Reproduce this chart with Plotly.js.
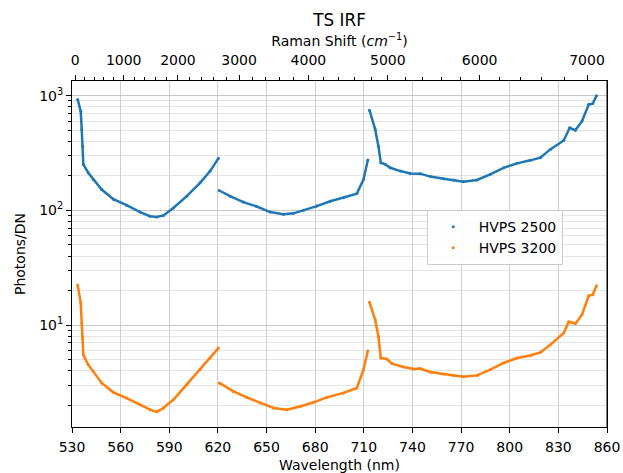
<!DOCTYPE html>
<html>
<head>
<meta charset="utf-8">
<script src="https://cdn.plot.ly/plotly-3.0.1.min.js"></script>
<style>html,body{margin:0;padding:0;background:#fff;}#chart{width:623px;height:473px;}</style>
</head>
<body>
<div id="chart"></div>
<script>
// ---- data ----
const wl1 = [533.5, 535.4, 536.0, 536.6, 537.0, 540.0, 543.2, 548.3, 555.5, 563.7, 572.0, 578.1, 582.3, 586.4, 592.5, 600.8, 609.0, 615.2, 620.3];
const wl2 = [620.8, 627.5, 635.7, 644.0, 652.2, 660.4, 666.6, 672.8, 681.0, 689.3, 697.5, 705.7, 709.8, 712.5];
const wl3 = [713.5, 717.0, 719.0, 720.5, 723.2, 726.3, 732.5, 738.6, 744.8, 751.0, 759.2, 765.4, 771.5, 779.8, 788.0, 796.2, 804.5, 812.7, 818.9, 825.0, 833.3, 837.0, 840.5, 844.6, 848.7, 851.2, 853.5];

const hv2500_1 = [927, 733, 508, 363, 252, 213, 186, 152, 125, 111, 96.6, 89, 87.5, 90.4, 105, 133, 174, 220, 284];
const hv2500_2 = [149, 133, 118, 108, 96.7, 92.3, 94.2, 100, 109, 120, 129, 140, 186, 275];
const hv2500_3 = [748, 508, 363, 260, 252, 235, 220, 210, 209, 197, 189, 184, 178, 184, 206, 235, 257, 273, 288, 340, 407, 525, 500, 600, 837, 853, 1000];

const hv3200_1 = [22.4, 15.6, 10.4, 7.94, 5.5, 4.51, 3.95, 3.13, 2.59, 2.31, 2.02, 1.83, 1.75, 1.89, 2.23, 3.02, 4.08, 5.16, 6.3];
const hv3200_2 = [3.13, 2.64, 2.34, 2.09, 1.89, 1.83, 1.95, 2.12, 2.34, 2.56, 2.83, 4.08, 5.97];
const wl2o = [620.8, 629.6, 637.8, 646.0, 654.3, 662.5, 670.7, 679.0, 687.2, 697.5, 705.7, 709.8, 712.5];
const hv3200_3 = [15.8, 11.1, 7.94, 5.16, 5.06, 4.61, 4.31, 4.14, 4.17, 3.90, 3.74, 3.64, 3.55, 3.64, 4.08, 4.67, 5.16, 5.43, 5.77, 6.73, 8.51, 10.7, 10.3, 12.3, 18.0, 18.4, 22.0];
const wl3o = [713.5, 717.0, 719.0, 720.5, 724.2, 727.3, 734.5, 740.7, 744.8, 751.0, 759.2, 765.4, 771.5, 779.8, 788.0, 796.2, 804.5, 812.7, 818.9, 825.0, 833.3, 836.4, 840.5, 844.6, 848.7, 851.2, 853.5];

const seriesNames = ["HVPS 2500", "HVPS 3200"];
const xTicks = [530, 560, 590, 620, 650, 680, 710, 740, 770, 800, 830, 860];
const ramanMajor = [0, 1000, 2000, 3000, 4000, 5000, 6000, 7000];
const ramanMinorStep = 200;
const laserNm = 532;
const yMajor = [10, 100, 1000];

// ---- helpers ----
function joinSegs(segs) { const out = []; segs.forEach((s, i) => { if (i) out.push(null); out.push(...s); }); return out; }
const ramanToNm = r => 1e7 / (1e7 / laserNm - r);
const ramanMinor = [];
for (let r = 0; r <= 7200; r += ramanMinorStep) if (r % 1000 !== 0) ramanMinor.push(r);
const yMinor = [];
[1, 10, 100].forEach(d => { for (let k = 2; k <= 9; k++) yMinor.push(k * d); });

const blue = '#1f77b4', orange = '#ff7f0e';
const xb = joinSegs([wl1, wl2, wl3]), yb = joinSegs([hv2500_1, hv2500_2, hv2500_3]);
const xo = joinSegs([wl1, wl2o, wl3o]), yo = joinSegs([hv3200_1, hv3200_2, hv3200_3]);

const traces = [
  {x: xb, y: yb, mode: 'lines', line: {color: blue, width: 2.5}, showlegend: false, hoverinfo: 'skip', connectgaps: false},
  {x: xo, y: yo, mode: 'lines', line: {color: orange, width: 2.5}, showlegend: false, hoverinfo: 'skip', connectgaps: false},
  {x: xb, y: yb, mode: 'markers', marker: {color: blue, size: 3}, name: seriesNames[0]},
  {x: xo, y: yo, mode: 'markers', marker: {color: orange, size: 3}, name: seriesNames[1]},
  {x: [null], y: [null], xaxis: 'x2', mode: 'markers', showlegend: false, hoverinfo: 'skip'}
];

const font = {family: 'DejaVu Sans, sans-serif', size: 14, color: '#000'};
const layout = {
  width: 623, height: 473,
  margin: {l: 72, r: 16, t: 81, b: 46},
  paper_bgcolor: '#fff', plot_bgcolor: '#fff',
  font: font,
  title: {text: 'TS IRF', font: {family: 'DejaVu Sans, sans-serif', size: 16.8, color: '#000'}, x: 0.545, xref: 'container', y: 0.958, yref: 'container', xanchor: 'center', yanchor: 'middle'},
  xaxis: {
    range: [530, 860], tickmode: 'array', tickvals: xTicks, ticktext: xTicks.map(String),
    ticks: 'outside', ticklen: 5, tickwidth: 1, tickcolor: '#000', ticklabelstandoff: 2,
    showline: true, linecolor: '#000', linewidth: 1, mirror: false,
    showgrid: true, gridcolor: '#d0d0d0', gridwidth: 1, zeroline: false,
    title: {text: 'Wavelength (nm)', font: font, standoff: 9}
  },
  xaxis2: {
    overlaying: 'x', side: 'top', range: [530, 860],
    tickmode: 'array', tickvals: ramanMajor.map(ramanToNm), ticktext: ramanMajor.map(String),
    ticks: 'outside', ticklen: 5, tickwidth: 1, tickcolor: '#000', ticklabelstandoff: 4,
    minor: {tickmode: 'array', tickvals: ramanMinor.map(ramanToNm), ticks: 'outside', ticklen: 3, tickcolor: '#000', showgrid: false},
    showline: true, linecolor: '#000', linewidth: 1, showgrid: false, zeroline: false,
    title: {text: 'Raman Shift (<i>cm</i><sup>−1</sup>)', font: font, standoff: 2}
  },
  yaxis: {
    type: 'log', range: [0.111, 3.128],
    tickmode: 'array', tickvals: yMajor, ticktext: ['10<sup>1</sup>', '10<sup>2</sup>', '10<sup>3</sup>'],
    ticks: 'outside', ticklen: 5, tickwidth: 1, tickcolor: '#000',
    minor: {tickmode: 'array', tickvals: yMinor, ticks: 'outside', ticklen: 3, tickcolor: '#000', showgrid: true, gridcolor: '#e4e4e4', gridwidth: 1},
    showline: true, linecolor: '#000', linewidth: 1, mirror: true,
    showgrid: true, gridcolor: '#c8c8c8', gridwidth: 1, zeroline: false,
    title: {text: 'Photons/DN', font: font, standoff: 10}
  },
  legend: {
    x: 0.663, y: 0.627, xanchor: 'left', yanchor: 'top',
    bgcolor: 'rgba(255,255,255,0.85)', bordercolor: '#cccccc', borderwidth: 1,
    font: font, itemsizing: 'trace', itemwidth: 41,
    entrywidth: 135, entrywidthmode: 'pixels'
  },
  shapes: [{type: 'line', xref: 'paper', yref: 'paper', x0: 1, x1: 1, y0: 0, y1: 1, line: {color: '#000', width: 1}}]
};

Plotly.newPlot('chart', traces, layout, {staticPlot: true, displayModeBar: false});
</script>
</body>
</html>
